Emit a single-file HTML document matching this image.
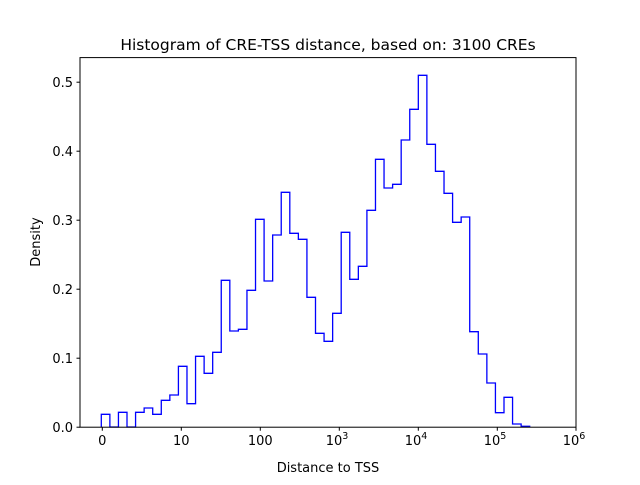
<!DOCTYPE html>
<html><head><meta charset="utf-8"><style>
html,body{margin:0;padding:0;background:#fff;}
svg text{font-family:"DejaVu Sans","Liberation Sans",sans-serif;fill:#000;}
</style></head><body>
<svg width="640" height="480" viewBox="0 0 640 480" xmlns="http://www.w3.org/2000/svg">
<rect width="640" height="480" fill="#fff"/>
<path fill="none" stroke="#0000ff" stroke-width="1.3" stroke-linejoin="miter" d="M101.3 427 V414.3 H109.87 V427 H118.44 V412.3 H127.0 V427 H135.57 V412.3 H144.14 V408 H152.71 V414.3 H161.28 V400.3 H169.84 V395 H178.41 V366.3 H186.98 V403.7 H195.55 V356.3 H204.12 V373.3 H212.68 V352.3 H221.25 V280.3 H229.82 V331 H238.39 V329.3 H246.96 V290.3 H255.52 V219.3 H264.09 V281 H272.66 V235 H281.23 V192.3 H289.8 V233.3 H298.36 V239.3 H306.93 V297.3 H315.5 V333.3 H324.07 V341.3 H332.64 V313.3 H341.2 V232.3 H349.77 V279.3 H358.34 V266.3 H366.91 V210.3 H375.48 V159.3 H384.04 V188 H392.61 V184.3 H401.18 V140 H409.75 V109.3 H418.32 V75.3 H426.88 V144.3 H435.45 V171.3 H444.02 V193.3 H452.59 V222.3 H461.16 V217 H469.72 V331.7 H478.29 V354 H486.86 V383 H495.43 V412.7 H504.0 V397.3 H512.56 V424 H521.13 V426.3 H529.7 V427"/>
<rect x="80" y="57.6" width="496" height="369.6" fill="none" stroke="#000" stroke-width="1"/>
<g stroke="#000" stroke-width="1">
<line x1="102.3" y1="427.2" x2="102.3" y2="430.7"/>
<line x1="181.3" y1="427.2" x2="181.3" y2="430.7"/>
<line x1="260.3" y1="427.2" x2="260.3" y2="430.7"/>
<line x1="339.3" y1="427.2" x2="339.3" y2="430.7"/>
<line x1="418.3" y1="427.2" x2="418.3" y2="430.7"/>
<line x1="497.3" y1="427.2" x2="497.3" y2="430.7"/>
<line x1="576" y1="427.2" x2="576" y2="430.7"/>
<line x1="76.5" y1="427.2" x2="80" y2="427.2"/>
<line x1="76.5" y1="358.2" x2="80" y2="358.2"/>
<line x1="76.5" y1="289.2" x2="80" y2="289.2"/>
<line x1="76.5" y1="220.2" x2="80" y2="220.2"/>
<line x1="76.5" y1="151.2" x2="80" y2="151.2"/>
<line x1="76.5" y1="82.2" x2="80" y2="82.2"/>
</g>
<g font-size="13" text-anchor="middle">
<text x="102.3" y="445">0</text>
<text x="181.3" y="445">10</text>
<text x="260.3" y="445">100</text>
<text x="337" y="445">10<tspan font-size="9.5" dy="-6">3</tspan></text>
<text x="416" y="445">10<tspan font-size="9.5" dy="-6">4</tspan></text>
<text x="495" y="445">10<tspan font-size="9.5" dy="-6">5</tspan></text>
<text x="574" y="445">10<tspan font-size="9.5" dy="-6">6</tspan></text>
</g>
<g font-size="13" text-anchor="end">
<text x="73" y="432">0.0</text>
<text x="73" y="363">0.1</text>
<text x="73" y="294">0.2</text>
<text x="73" y="225">0.3</text>
<text x="73" y="156">0.4</text>
<text x="73" y="87">0.5</text>
</g>
<text x="328" y="472" font-size="13" text-anchor="middle">Distance to TSS</text>
<text transform="translate(40,242) rotate(-90)" font-size="13" text-anchor="middle">Density</text>
<text x="328" y="50" font-size="15.5" text-anchor="middle">Histogram of CRE-TSS distance, based on: 3100 CREs</text>
</svg>
</body></html>
